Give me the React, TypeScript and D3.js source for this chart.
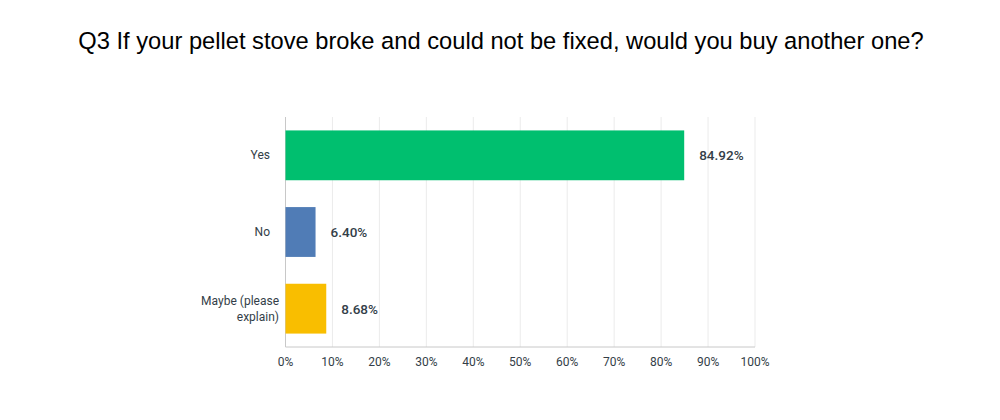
import React from "react";
import * as d3 from "d3";

const categories = ["Yes", "No", "Maybe (please explain)"];
const values = [84.92, 6.4, 8.68];
const colors = ["#00bf6f", "#507cb6", "#f9be00"];
const ticks = [0, 10, 20, 30, 40, 50, 60, 70, 80, 90, 100];

const W = 1000;
const H = 420;
const margin = { top: 117, right: 245, bottom: 73, left: 285.5 };

export default function App() {
    const width = W - margin.left - margin.right;
    const height = H - margin.top - margin.bottom;

    const x = d3.scaleLinear().domain([0, 100]).range([0, width]);
    const y = d3.scaleBand<string>().domain(categories).range([0, height]).paddingInner(0.35).paddingOuter(0.175);

    const wrapLabel = (s: string) => (s === "Maybe (please explain)" ? ["Maybe (please", "explain)"] : [s]);

    return (
        <svg width={W} height={H} style={{ position: "absolute", left: 0, top: 0, background: "#fff" }}>
            <text x={501} y={49} textAnchor="middle" fontFamily="Liberation Sans, Arial, sans-serif" fontSize={23.7} fill="#000">
                Q3 If your pellet stove broke and could not be fixed, would you buy another one?
            </text>
            <g transform={`translate(${margin.left},${margin.top})`}>
                {ticks.map((t) => (
                    <line key={t} x1={x(t)} x2={x(t)} y1={0} y2={height} stroke={t === 0 ? "#c8c8c8" : "#ebebeb"} strokeWidth={1} />
                ))}
                <line x1={0} x2={width} y1={height} y2={height} stroke="#c8c8c8" />
                {ticks.map((t) => (
                    <text key={t} x={x(t)} y={height + 19} textAnchor="middle" fontFamily="Roboto, sans-serif" fontSize={12} fill="#333e48">
                        {t}%
                    </text>
                ))}
                {categories.map((c, i) => {
                    const yc = y(c)! + y.bandwidth() / 2;
                    const lines = wrapLabel(c);
                    return (
                        <g key={c}>
                            <rect x={0} y={y(c)} width={x(values[i])} height={y.bandwidth()} fill={colors[i]} />
                            <text x={x(values[i]) + 15} y={yc + 5} fontFamily="Roboto, sans-serif" fontSize={13.5} fontWeight={500} fill="#333e48">
                                {values[i].toFixed(2)}%
                            </text>
                            {lines.map((l, j) => (
                                <text key={j} x={lines.length > 1 ? -6.5 : -15.5} y={yc + 4 + (j - (lines.length - 1) / 2) * 16} textAnchor="end" fontFamily="Roboto, sans-serif" fontSize={12} fill="#333e48">
                                    {l}
                                </text>
                            ))}
                        </g>
                    );
                })}
            </g>
        </svg>
    );
}
